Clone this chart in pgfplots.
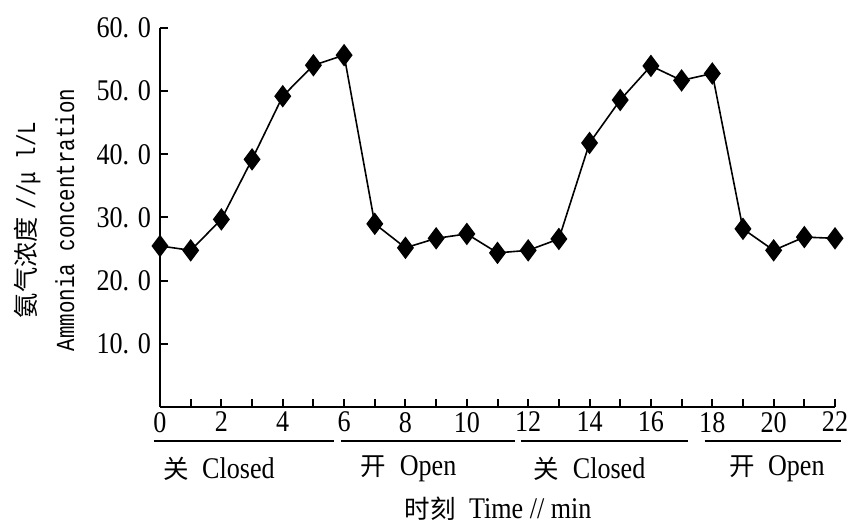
\documentclass[border=0pt]{standalone}
\usepackage{fontspec}
\usepackage{pgfplots}
\pgfplotsset{compat=1.18}
\setmainfont[FakeStretch=0.87]{Liberation Serif}
\newfontfamily\monofnt[FakeStretch=0.8]{Liberation Mono}
\newfontfamily\cjk[Scale=0.85]{Noto Sans CJK SC}
\newfontfamily\cjkb[Scale=0.97]{Noto Sans CJK SC}
\begin{document}
\begin{tikzpicture}
\useasboundingbox (-80pt,-58pt) rectangle (345.5pt,203.5pt);
\begin{axis}[
  at={(0,0)}, anchor=south west,
  scale only axis, width=337.5pt, height=189.5pt,
  xmin=0, xmax=22, ymin=0, ymax=60,
  axis x line=bottom, axis y line=left,
  axis line style={-, line width=1pt},
  xtick={0,2,...,22}, minor xtick={1,3,...,21},
  xticklabels={0,2,4,6,8,10,12,14,16,18,20,22},
  ytick={10,20,...,60},
  yticklabels={10. 0,20. 0,30. 0,40. 0,50. 0,60. 0},
  tick align=inside,
  major tick length=4pt, minor tick length=4pt,
  every tick/.style={line width=1pt, black},
  minor tick style={line width=1pt, black},
  ticklabel style={font=\fontsize{15}{16}\selectfont},
  yticklabel style={xshift=-1pt},
  xticklabel style={yshift=1pt},
  /pgf/number format/assume math mode=true,
  clip=false,
]
\addplot[black, line width=0.8pt, mark=diamond*, mark size=5pt, mark options={solid, fill=black}] coordinates {
(0,25.5) (1,24.8) (2,29.7) (3,39.2) (4,49.2) (5,54.1) (6,55.7) (7,29.0) (8,25.2) (9,26.7) (10,27.4) (11,24.4)
(12,24.8) (13,26.6) (14,41.8) (15,48.6) (16,54.0) (17,51.7) (18,52.8) (19,28.2) (20,24.8) (21,26.9) (22,26.7)
};
\end{axis}
\begin{scope}[line width=1pt]
\draw (-3.1pt,-17pt) -- (87pt,-17pt);
\draw (90.5pt,-17pt) -- (177.4pt,-17pt);
\draw (180.4pt,-17pt) -- (263.9pt,-17pt);
\draw (272.3pt,-17pt) -- (340.5pt,-17pt);
\end{scope}
\begin{scope}[font=\fontsize{15}{16}\selectfont]
\node at (29.5pt,-31pt) {{\cjk 关}\hspace{0.45em}Closed};
\node at (124.3pt,-31pt) {{\cjk 开}\hspace{0.45em}Open};
\node at (214.8pt,-31pt) {{\cjk 关}\hspace{0.45em}Closed};
\node at (308.4pt,-31pt) {{\cjk 开}\hspace{0.45em}Open};
\node at (169pt,-51pt) {{\cjk 时刻}\hspace{0.45em}Time // min};
\end{scope}
\node[rotate=90, align=center, font=\fontsize{13}{17.5}\monofnt] at (-58pt,93.5pt) {{\cjkb 氨气浓度}\hspace{0.3em}//μ l/L\\[2pt]Ammonia concentration};
\end{tikzpicture}
\end{document}
